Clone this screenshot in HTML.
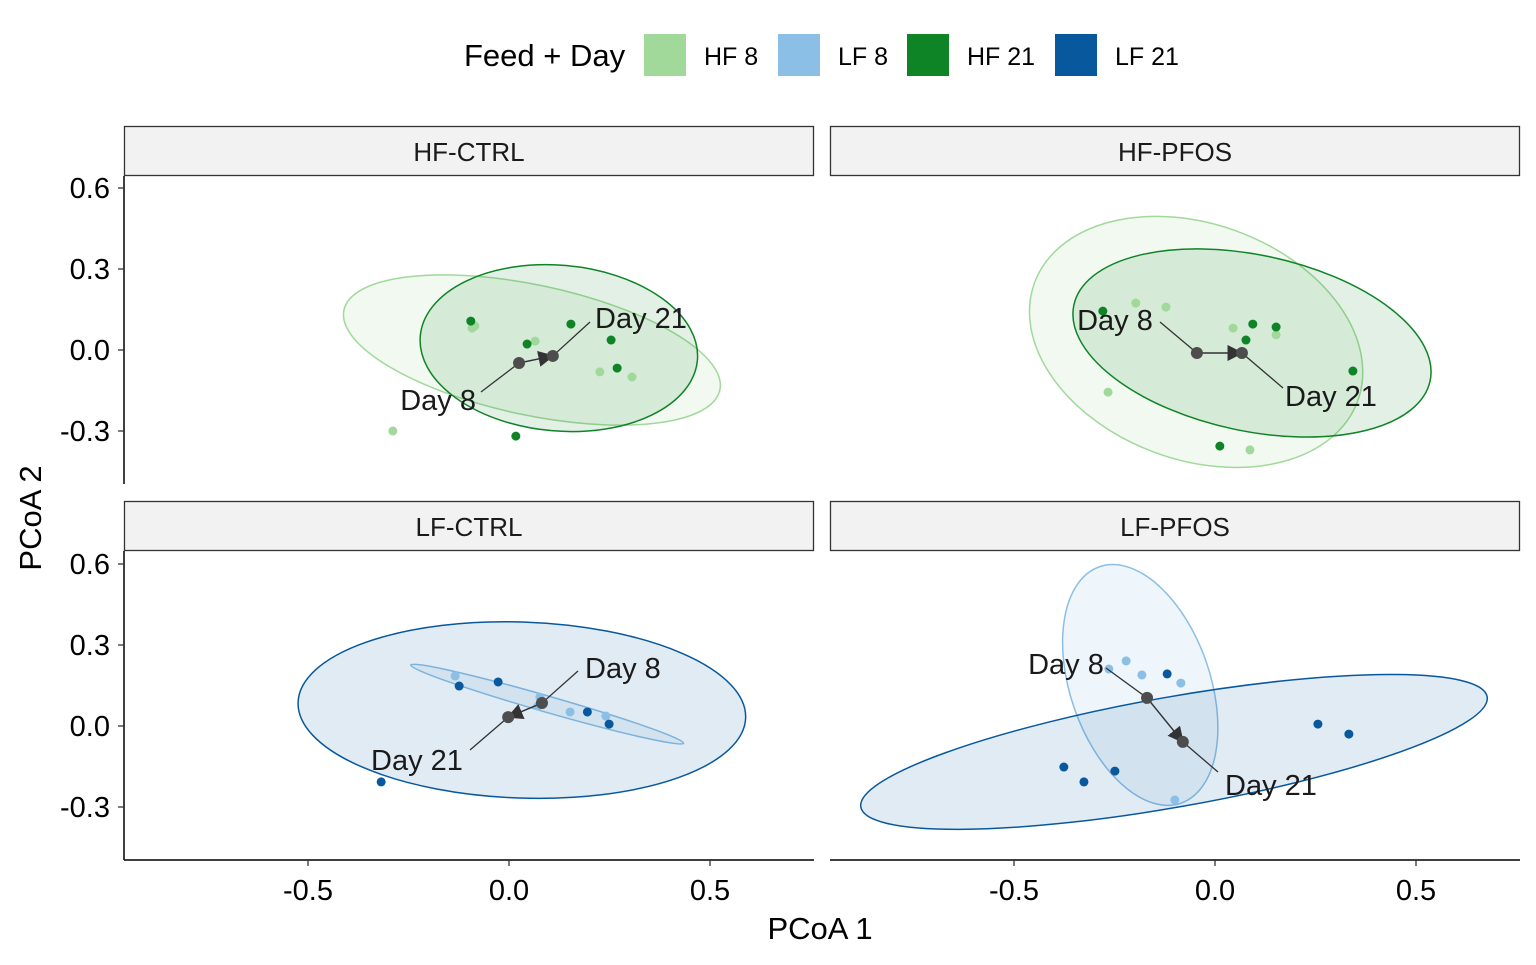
<!DOCTYPE html>
<html><head><meta charset="utf-8"><style>
body{margin:0;background:#fff;}
svg text{font-family:"Liberation Sans",Arial,sans-serif;}
</style></head><body>
<svg id="chart" width="1536" height="960" xmlns="http://www.w3.org/2000/svg">
<g>
<text x="464" y="66" font-size="31" fill="#000">Feed + Day</text>
<rect x="644" y="34" width="42" height="42" fill="#a1d99b"/>
<text x="704" y="65" font-size="25">HF 8</text>
<rect x="778" y="34" width="42" height="42" fill="#8bbfe6"/>
<text x="838" y="65" font-size="25">LF 8</text>
<rect x="907" y="34" width="42" height="42" fill="#0e8427"/>
<text x="967" y="65" font-size="25">HF 21</text>
<rect x="1055" y="34" width="42" height="42" fill="#08589e"/>
<text x="1115" y="65" font-size="25">LF 21</text>
</g>
<text x="820" y="939" font-size="31" text-anchor="middle">PCoA 1</text>
<text transform="translate(41,518) rotate(-90)" font-size="31" text-anchor="middle">PCoA 2</text>
<defs>
<marker id="ah2" viewBox="0 0 10 10" refX="9" refY="5" markerWidth="16" markerHeight="16" orient="auto" markerUnits="userSpaceOnUse"><path d="M0,0 L10,5 L0,10 Z" fill="#333"/></marker></defs>
<g id="panels"></g>
</svg>
<script>
const xTicks=[-0.5,0,0.5];
const xTickLabels=["-0.5","0.0","0.5"];
const yTicks=[0.6,0.3,0,-0.3];
const yTickLabels=["0.6","0.3","0.0","-0.3"];
const panelNames=["HF-CTRL","HF-PFOS","LF-CTRL","LF-PFOS"];
// points per panel: day8 x/y, day21 x/y
const d8x=[[-0.085,-0.092,0.065,0.226,0.306,-0.289],[-0.197,-0.122,0.045,0.152,-0.266,0.087],[-0.134,0.077,0.152,0.241,0.072],[-0.264,-0.221,-0.182,-0.085,-0.1]];
const d8y=[[0.089,0.081,0.033,-0.081,-0.1,-0.3],[0.174,0.159,0.081,0.056,-0.156,-0.37],[0.185,0.107,0.052,0.037,0.074],[0.211,0.241,0.189,0.159,-0.274]];
const d21x=[[-0.095,0.045,0.154,0.254,0.269,0.017],[-0.279,0.077,0.094,0.152,0.343,0.012],[-0.124,-0.027,0.195,0.249,-0.318],[-0.119,0.256,0.333,-0.376,-0.326,-0.249]];
const d21y=[[0.107,0.022,0.096,0.037,-0.067,-0.319],[0.144,0.037,0.096,0.085,-0.078,-0.356],[0.148,0.163,0.052,0.007,-0.207],[0.193,0.007,-0.03,-0.152,-0.207,-0.167]];
const cent8=[[0.025,-0.048],[-0.045,-0.011],[0.082,0.085],[-0.169,0.104]];
const cent21=[[0.109,-0.022],[0.067,-0.011],[-0.002,0.033],[-0.08,-0.059]];
// ellipses: cx, cy, a (x units), b (y units), angle deg
const ell8=[[0.057,0.0,0.478,0.241,12],[-0.047,0.03,0.428,0.437,20],[0.095,0.081,0.353,0.03,16],[-0.186,0.152,0.311,0.259,71]];
const ell21=[[0.124,0.007,0.346,0.307,5],[0.092,0.026,0.453,0.326,12],[0.032,0.059,0.557,0.326,2],[-0.102,-0.096,0.791,0.204,-10]];
const lab8=[[476,410,"end",481,392],[1115,330,"middle",1160,322],[585,678,"start",578,671],[1066,674,"middle",1106,668]];
const lab21=[[641,328,"middle",590,322],[1285,406,"start",1283,388],[371,770,"start",470,750],[1225,795,"start",1218,772]];

const NS="http://www.w3.org/2000/svg";
const g=document.getElementById("panels");
const geo=[{x0:124,x1:814,zx:509,y0:176,y1:484,zy:350},{x0:830,x1:1520,zx:1215,y0:176,y1:484,zy:350},{x0:124,x1:814,zx:509,y0:551,y1:860,zy:726},{x0:830,x1:1520,zx:1215,y0:551,y1:860,zy:726}];
const SX=402,SY=270;
const c8=["#a1d99b","#a1d99b","#8bbfe6","#8bbfe6"],c21=["#0e8427","#0e8427","#08589e","#08589e"];
function mk(t,a,p){const e=document.createElementNS(NS,t);for(const k in a)e.setAttribute(k,a[k]);(p||g).appendChild(e);return e;}
panelNames.forEach((nm,i)=>{
 const G=geo[i];const X=v=>G.zx+v*SX,Y=v=>G.zy-v*SY;
 const pg=mk("g",{});
 
 
 const st=mk("rect",{x:G.x0+0.5,y:G.y0-50+0.5,width:G.x1-G.x0-1,height:49,fill:"#f2f2f2",stroke:"#333","stroke-width":1.3},pg);
 
 
 const tt=mk("text",{x:(G.x0+G.x1)/2,y:G.y0-15,"font-size":26,"text-anchor":"middle",fill:"#1a1a1a"},pg);tt.textContent=nm;
 
 
 const clip=mk("g",{},pg);
 [[ell8[i],c8[i],0.15],[ell21[i],c21[i],0.12]].forEach(([e,c,op],k)=>{
  const el=mk("ellipse",{cx:X(e[0]),cy:Y(e[1]),rx:e[2]*SX,ry:e[3]*SY,transform:`rotate(${e[4]} ${X(e[0])} ${Y(e[1])})`,fill:c,"fill-opacity":op,stroke:c,"stroke-width":1.5},clip);
  
  
 });
 d8x[i].forEach((v,j)=>{const p=mk("circle",{cx:X(v),cy:Y(d8y[i][j]),r:4.5,fill:c8[i]},clip);
  
  });
 d21x[i].forEach((v,j)=>{const p=mk("circle",{cx:X(v),cy:Y(d21y[i][j]),r:4.5,fill:c21[i]},clip);
  
  });
 const a=cent8[i],b=cent21[i];
 const ar=mk("line",{x1:X(a[0]),y1:Y(a[1]),x2:X(b[0]),y2:Y(b[1]),stroke:"#333","stroke-width":1.5,"marker-end":"url(#ah2)"},clip);
 
 
 [[a,lab8[i],"Day 8"],[b,lab21[i],"Day 21"]].forEach(([c,l,s])=>{
  mk("line",{x1:l[3],y1:l[4],x2:X(c[0]),y2:Y(c[1]),stroke:"#333","stroke-width":1.3},clip);
  const cc=mk("circle",{cx:X(c[0]),cy:Y(c[1]),r:6,fill:"#4d4d4d"},clip);
  
  
  const t=mk("text",{x:l[0],y:l[1],"font-size":29,"text-anchor":l[2],fill:"#1a1a1a"},clip);t.textContent=s;
  
  
 });
 if(i%2==0){
  mk("line",{x1:G.x0,y1:G.y0,x2:G.x0,y2:G.y1,stroke:"#000","stroke-width":1.5},pg);
  yTicks.forEach((v,j)=>{mk("line",{x1:G.x0-6,y1:Y(v),x2:G.x0,y2:Y(v),stroke:"#333","stroke-width":1.3},pg);
   const t=mk("text",{x:G.x0-14,y:Y(v)+10,"font-size":29,"text-anchor":"end",fill:"#000"},pg);t.textContent=yTickLabels[j];
   
   });
 }
 if(i>=2){
  mk("line",{x1:G.x0,y1:G.y1,x2:G.x1,y2:G.y1,stroke:"#000","stroke-width":1.5},pg);
  xTicks.forEach((v,j)=>{mk("line",{x1:X(v),y1:G.y1,x2:X(v),y2:G.y1+6,stroke:"#333","stroke-width":1.3},pg);
   const t=mk("text",{x:X(v),y:G.y1+40,"font-size":29,"text-anchor":"middle",fill:"#000"},pg);t.textContent=xTickLabels[j];
   
   });
 }
});
</script>
</body></html>
